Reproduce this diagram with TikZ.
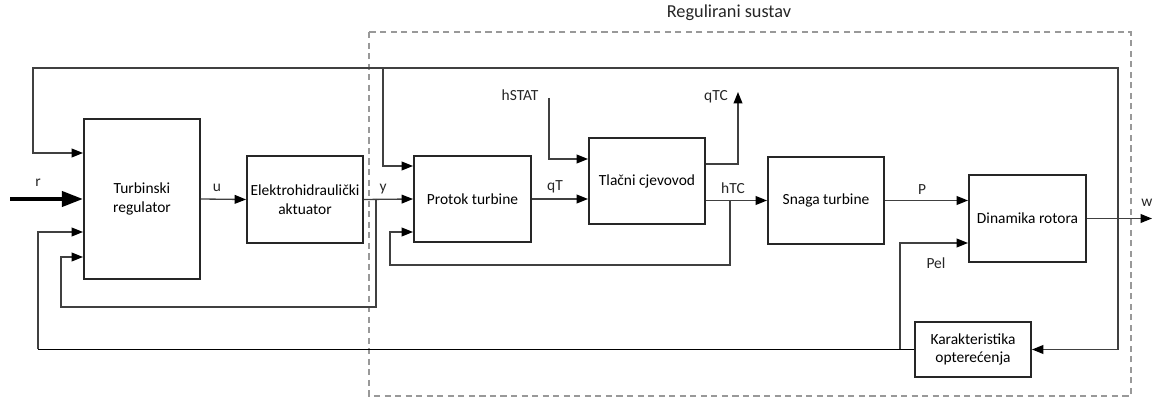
\documentclass[tikz,border=0pt]{standalone}
\usepackage{fontspec}
\setmainfont{Carlito}
\usetikzlibrary{arrows.meta}
\begin{document}
\begin{tikzpicture}
% Block diagram of the turbine control loop (pixel grid, y down)
\def\pxsz{0.02cm}
\providecommand{\blkLineColor}{black!85}
\providecommand{\sigLineColor}{black!75}
\providecommand{\frameColor}{black!40}
\useasboundingbox (0,0) rectangle (1157*\pxsz,-398*\pxsz);
\begin{scope}[x=\pxsz, y=-\pxsz, line join=miter,
  font=\fontsize{8.8}{10.5}\selectfont,
  blk/.style={draw=\blkLineColor, line width=1.1pt, align=center, inner sep=2pt},
  sig/.style={draw=\sigLineColor, line width=0.75pt, -{Triangle[length=6.5pt,width=5pt,color=black]}},
  wire/.style={draw=\sigLineColor, line width=0.75pt},
  lbl/.style={inner sep=0pt, text=black!85}]
  % Frame of the controlled system
  \draw[draw=\frameColor, line width=0.6pt, dash pattern=on 3.5pt off 2.5pt] (369,32) rectangle (1131,396);
  \node[lbl, font=\fontsize{10.4}{12}\selectfont] (title) at (729,13) {Regulirani sustav};
  % Blocks
  \node[blk, minimum width=116*\pxsz, minimum height=160*\pxsz] (treg) at (142,199) {Turbinski\\regulator};
  \node[blk, minimum width=116*\pxsz, minimum height=87*\pxsz] (eha) at (305,199.5) {Elektrohidraulički\\aktuator};
  \node[blk, minimum width=117*\pxsz, minimum height=86*\pxsz] (prot) at (472.5,199) {Protok turbine};
  \node[blk, minimum width=116*\pxsz, minimum height=86*\pxsz] (tlac) at (647,181) {Tlačni cjevovod};
  \node[blk, minimum width=116*\pxsz, minimum height=87*\pxsz] (snaga) at (826,200.5) {Snaga turbine};
  \node[blk, minimum width=117*\pxsz, minimum height=87*\pxsz] (dyn) at (1027.5,218.5) {Dinamika rotora};
  \node[blk, minimum width=116*\pxsz, minimum height=55*\pxsz] (kar) at (973,349.5) {Karakteristika\\opterećenja};
  % Free ends and branch points
  \coordinate (rin) at (10,199);
  \coordinate (wout) at (1152,218.5);
  \coordinate (wj) at (1118,218.5);
  \coordinate (tj) at (383,68);
  \coordinate (yj) at (376,199);
  \coordinate (hj) at (730,201);
  \coordinate (pj) at (900,349.5);
  \coordinate (hstat) at (549,98);
  \coordinate (qtc) at (738,92);
  % Forward path
  \draw[sig, draw=black, line width=2.3pt, -{Triangle[length=12pt,width=8.5pt]}] (rin) -- (treg.west);
  \draw[sig] (treg.east) -- (eha.west);
  \draw[sig] (eha.east) -- (prot.west);
  \draw[sig] (prot.east) -- (prot.east -| tlac.west);
  \draw[sig] (tlac.east |- snaga.west) -- (snaga.west);
  \draw[sig] (snaga.east) -- (snaga.east -| dyn.west);
  \draw[sig] (dyn.east) -- (wout);
  \draw[sig] (hstat) |- (tlac.west |- 0,159);
  \draw[sig] (tlac.east |- 0,164) -| (qtc);
  % Feedback paths
  \draw[sig] (wj) |- (33,68) |- (treg.west |- 0,153);
  \draw[sig] (tj) |- (prot.west |- 0,166);
  \draw[sig] (wj) |- (kar.east);
  \draw[sig] (yj) |- (61,307) |- (treg.west |- 0,257);
  \draw[sig] (hj) |- (390,265) |- (prot.west |- 0,232);
  \draw[wire, draw=black, line width=0.95pt] (kar.west) -- (38,349.5);
  \draw[sig] (38,349.5) |- (treg.west |- 0,232);
  \draw[sig] (pj) |- (dyn.west |- 0,243);
  % Signal labels
  \node[lbl] (lr) at (38,183) {r};
  \node[lbl] (lu) at (217,188) {u};
  \node[lbl] (ly) at (383,189) {y};
  \node[lbl] (lqt) at (555,187) {qT};
  \node[lbl] (lhstat) at (520,95) {hSTAT};
  \node[lbl] (lqtc) at (716,97) {qTC};
  \node[lbl] (lhtc) at (733,188) {hTC};
  \node[lbl] (lp) at (922,190) {P};
  \node[lbl] (lpel) at (936,263) {Pel};
  \node[lbl] (lw) at (1147,203) {w};
\end{scope}
\end{tikzpicture}
\end{document}
